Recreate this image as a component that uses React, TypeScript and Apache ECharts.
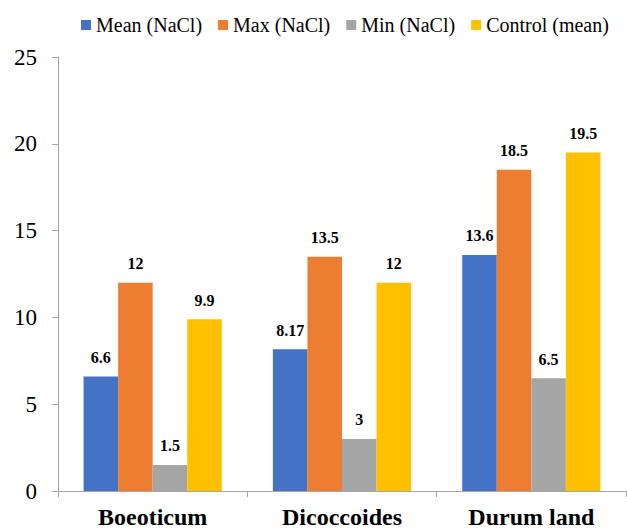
import React, { useEffect, useRef } from "react";
import * as echarts from "echarts";

const categories = ["Boeoticum", "Dicoccoides", "Durum land"];
const seriesNames = ["Mean (NaCl)", "Max (NaCl)", "Min (NaCl)", "Control (mean)"];
const meanValues = [6.6, 8.17, 13.6];
const maxValues = [12, 13.5, 18.5];
const minValues = [1.5, 3, 6.5];
const controlValues = [9.9, 12, 19.5];
const colors = ["#4472C4", "#ED7D31", "#A5A5A5", "#FFC000"];

const FONT = "Liberation Serif";

export default function App() {
  const ref = useRef<HTMLDivElement>(null);
  useEffect(() => {
    if (!ref.current) return;
    const chart = echarts.init(ref.current, null, { renderer: "svg" });
    const allValues = [meanValues, maxValues, minValues, controlValues];
    chart.setOption({
      animation: false,
      legend: {
        left: 76,
        top: 10,
        width: 560,
        itemWidth: 10,
        itemHeight: 10,
        itemGap: 16,
        icon: "rect",
        textStyle: { fontFamily: FONT, fontSize: 20, color: "#000" },
        data: seriesNames,
      },
      grid: { left: 58, right: 1, top: 57, bottom: 38 },
      xAxis: {
        type: "category",
        data: categories,
        axisLine: { show: true, lineStyle: { color: "#a6a6a6", width: 1 } },
        axisTick: { show: true, length: 6, lineStyle: { color: "#a6a6a6" } },
        axisLabel: {
          fontFamily: FONT,
          fontSize: 24,
          fontWeight: "bold",
          color: "#000",
          margin: 14,
        },
      },
      yAxis: {
        type: "value",
        min: 0,
        max: 25,
        interval: 5,
        splitLine: { show: false },
        axisLine: { show: true, lineStyle: { color: "#a6a6a6", width: 1 } },
        axisTick: { show: true, length: 6, lineStyle: { color: "#a6a6a6" } },
        axisLabel: { fontFamily: FONT, fontSize: 23, color: "#000", margin: 21 },
      },
      series: seriesNames.map((name, i) => ({
        name,
        type: "bar",
        data: allValues[i],
        barGap: "0%",
        barCategoryGap: "27%",
        itemStyle: { color: colors[i] },
        label: {
          show: true,
          position: "top",
          distance: 11,
          fontFamily: FONT,
          fontSize: 16,
          fontWeight: "bold",
          color: "#000",
        },
      })),
    });
    return () => chart.dispose();
  }, []);
  return (
    <div>
      <style>{`body { margin: 0; }`}</style>
      <div ref={ref} style={{ width: 627, height: 529 }} />
    </div>
  );
}
